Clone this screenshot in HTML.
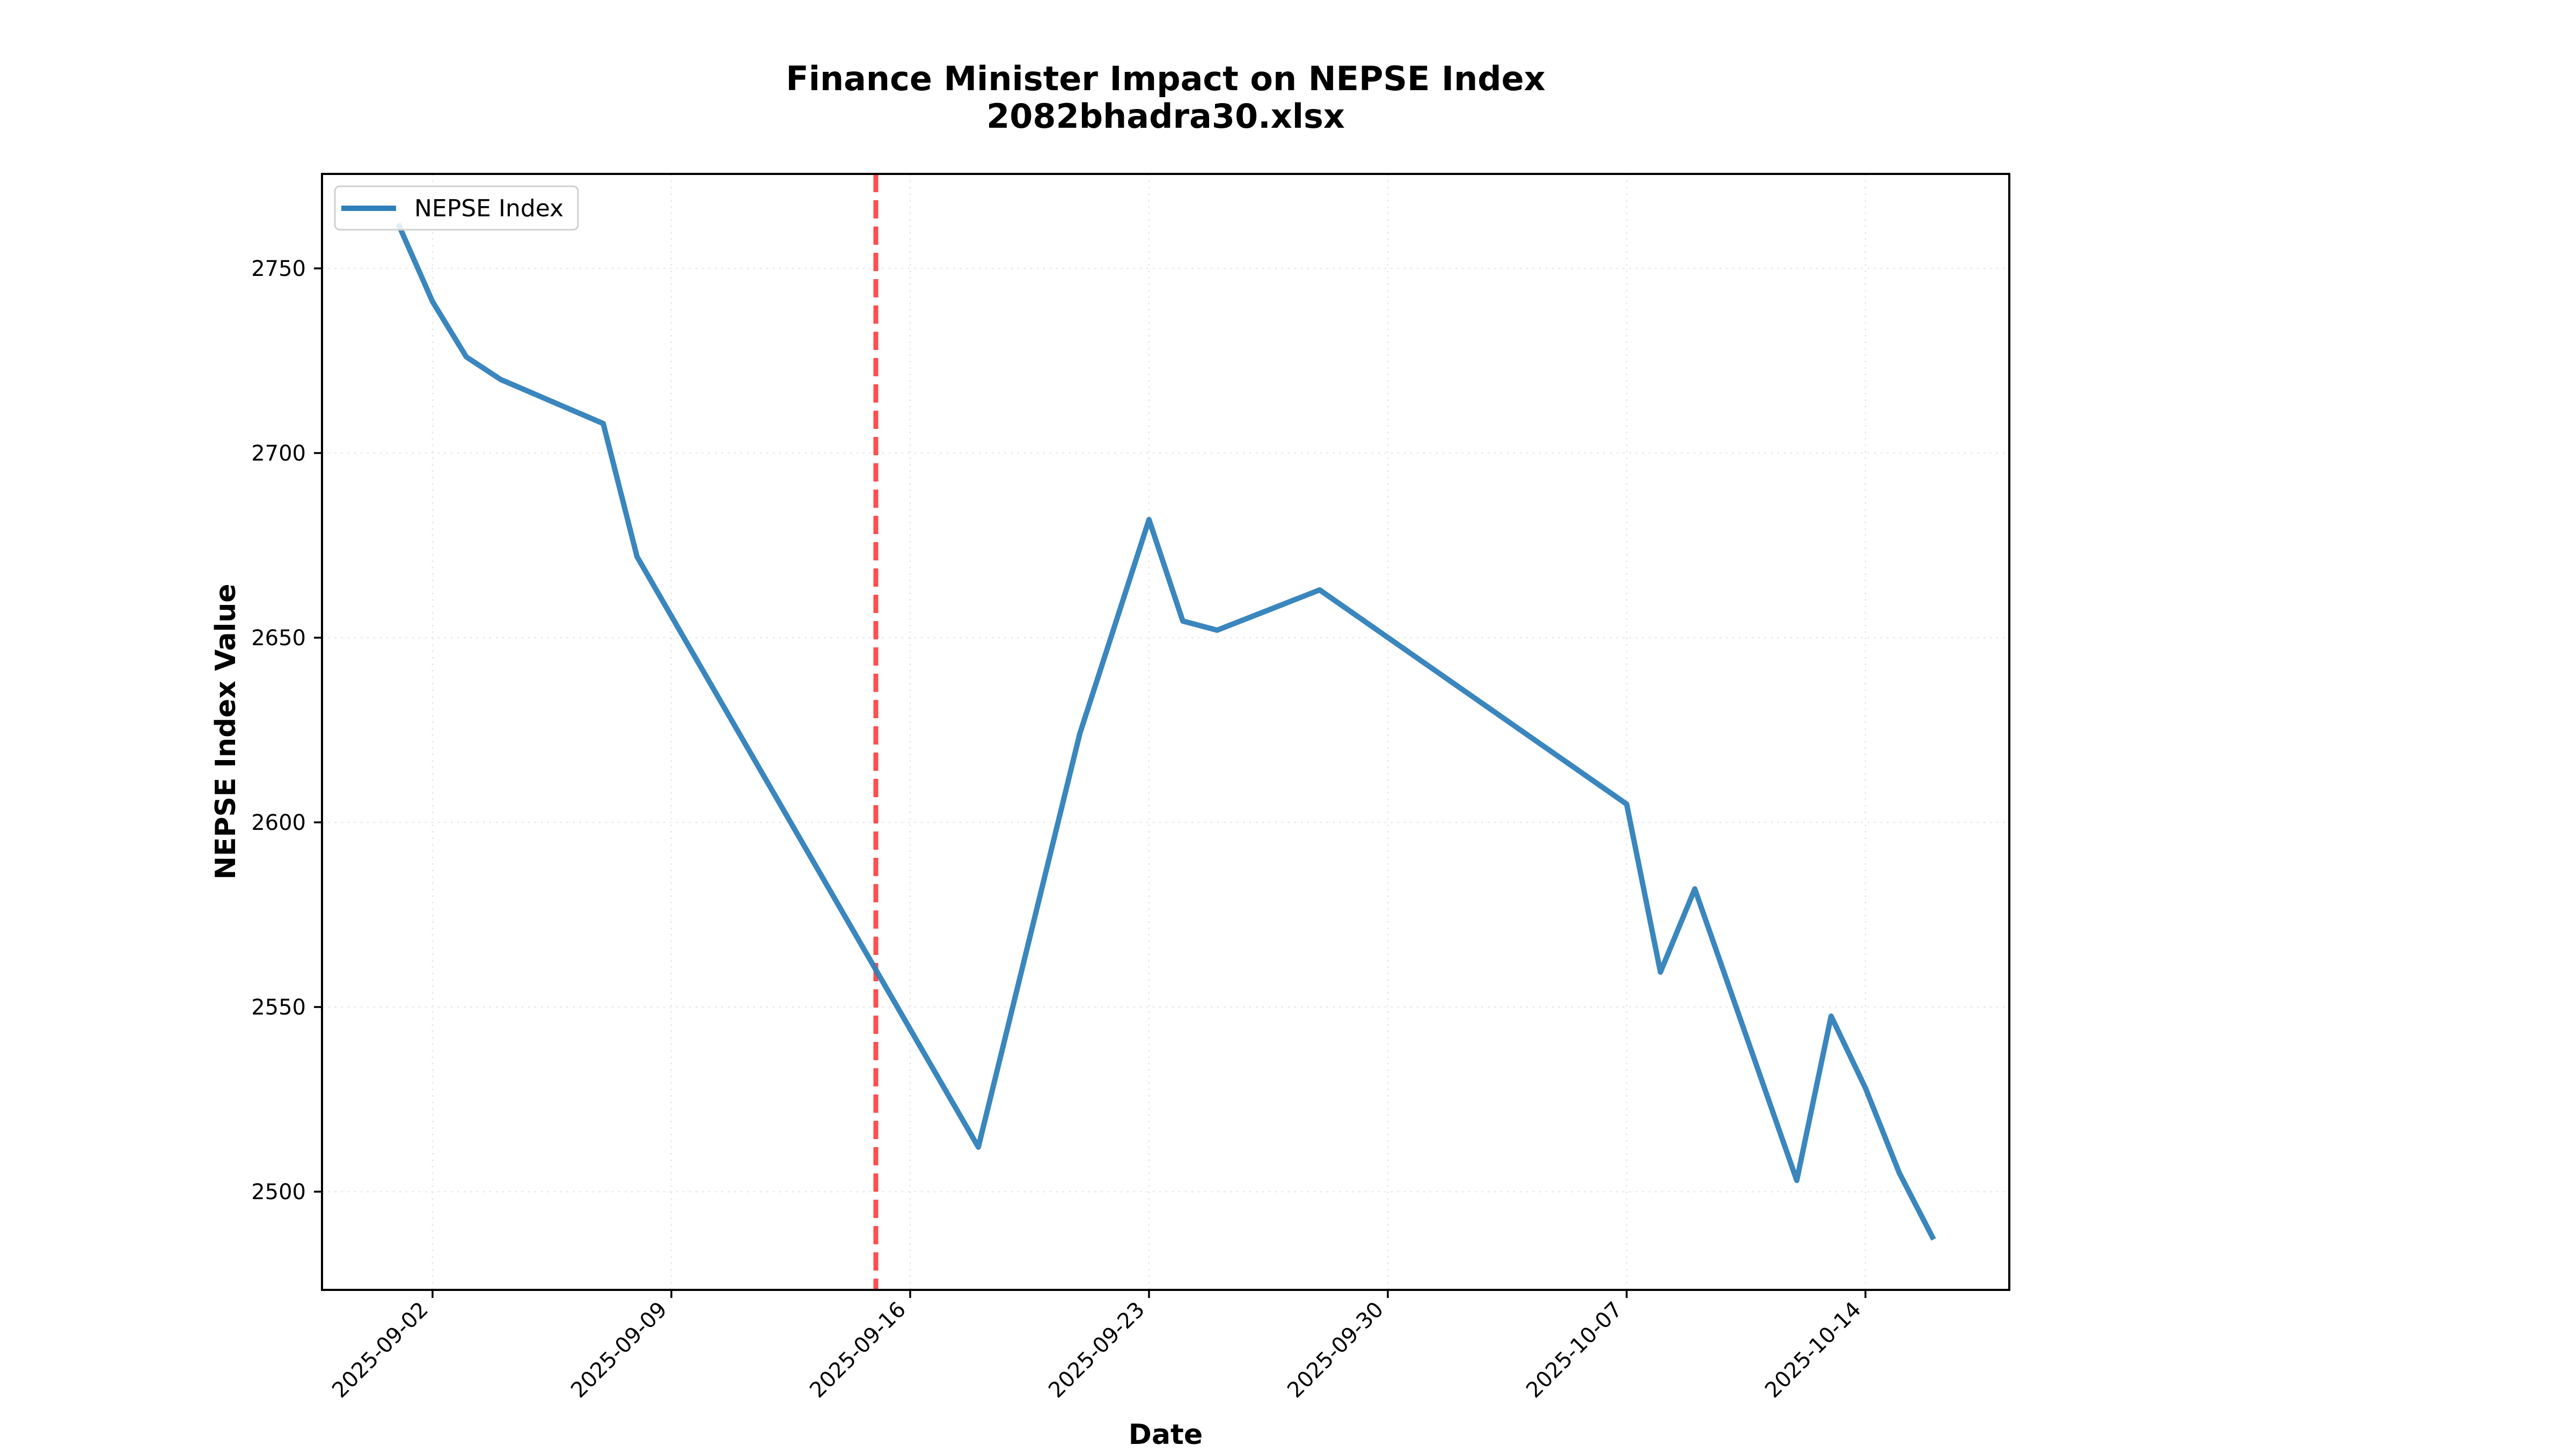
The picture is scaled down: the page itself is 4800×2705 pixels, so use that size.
<!DOCTYPE html>
<html><head><meta charset="utf-8"><style>html,body{margin:0;padding:0;background:#fff}</style></head>
<body>
<svg width="4800" height="2700" xmlns="http://www.w3.org/2000/svg" font-family="'DejaVu Sans','Liberation Sans',sans-serif">
<rect width="4800" height="2700" fill="#fff"/>
<g stroke="#e6e6e6" stroke-width="2.5" stroke-dasharray="3,9">
<line x1="806" y1="324" x2="806" y2="2403"/><line x1="1251" y1="324" x2="1251" y2="2403"/><line x1="1696" y1="324" x2="1696" y2="2403"/><line x1="2141" y1="324" x2="2141" y2="2403"/><line x1="2586" y1="324" x2="2586" y2="2403"/><line x1="3031" y1="324" x2="3031" y2="2403"/><line x1="3476" y1="324" x2="3476" y2="2403"/>
<line x1="600" y1="500" x2="3744" y2="500"/><line x1="600" y1="844" x2="3744" y2="844"/><line x1="600" y1="1188" x2="3744" y2="1188"/><line x1="600" y1="1532" x2="3744" y2="1532"/><line x1="600" y1="1876" x2="3744" y2="1876"/><line x1="600" y1="2220" x2="3744" y2="2220"/>
</g>
<line x1="1632" y1="324" x2="1632" y2="2403" stroke="#ff3b3b" stroke-opacity="0.9" stroke-width="9" stroke-dasharray="34,15"/>
<polyline fill="none" stroke="#2f7fbb" stroke-opacity="0.95" stroke-width="10" stroke-linejoin="round"
points="742,417 806,562 869,665 933,707 1124,789 1187,1037 1823,2137 2012,1367 2141,968 2204,1157 2268,1174 2459,1099 3031,1498 3094,1811 3158,1656 3348,2199 3412,1893 3476,2027 3539,2185 3603,2309"/>
<rect x="600" y="324" width="3144" height="2079" fill="none" stroke="#000" stroke-width="4"/>
<g stroke="#000" stroke-width="3.5">
<line x1="585" y1="500" x2="600" y2="500"/><line x1="585" y1="844" x2="600" y2="844"/><line x1="585" y1="1188" x2="600" y2="1188"/><line x1="585" y1="1532" x2="600" y2="1532"/><line x1="585" y1="1876" x2="600" y2="1876"/><line x1="585" y1="2220" x2="600" y2="2220"/>
<line x1="806" y1="2403" x2="806" y2="2418"/><line x1="1251" y1="2403" x2="1251" y2="2418"/><line x1="1696" y1="2403" x2="1696" y2="2418"/><line x1="2141" y1="2403" x2="2141" y2="2418"/><line x1="2586" y1="2403" x2="2586" y2="2418"/><line x1="3031" y1="2403" x2="3031" y2="2418"/><line x1="3476" y1="2403" x2="3476" y2="2418"/>
</g>
<g font-size="40" text-anchor="end">
<text x="570" y="514">2750</text><text x="570" y="858">2700</text><text x="570" y="1202">2650</text><text x="570" y="1546">2600</text><text x="570" y="1890">2550</text><text x="570" y="2234">2500</text>
<text transform="translate(800,2442) rotate(-45)">2025-09-02</text>
<text transform="translate(1245,2442) rotate(-45)">2025-09-09</text>
<text transform="translate(1690,2442) rotate(-45)">2025-09-16</text>
<text transform="translate(2135,2442) rotate(-45)">2025-09-23</text>
<text transform="translate(2580,2442) rotate(-45)">2025-09-30</text>
<text transform="translate(3025,2442) rotate(-45)">2025-10-07</text>
<text transform="translate(3470,2442) rotate(-45)">2025-10-14</text>
</g>
<rect x="624" y="347" width="453" height="81" rx="9" fill="#fff" fill-opacity="0.85" stroke="#d0d0d0" stroke-width="3"/>
<line x1="636" y1="388" x2="738" y2="388" stroke="#2f7fbb" stroke-width="10"/>
<text x="772" y="403" font-size="44">NEPSE Index</text>
<g font-weight="bold" text-anchor="middle">
<text x="2172" y="168" font-size="62">Finance Minister Impact on NEPSE Index</text>
<text x="2172" y="238" font-size="62">2082bhadra30.xlsx</text>
<text x="2172" y="2690" font-size="52">Date</text>
<text transform="translate(438,1363) rotate(-90)" font-size="52">NEPSE Index Value</text>
</g>
</svg>
</body></html>
